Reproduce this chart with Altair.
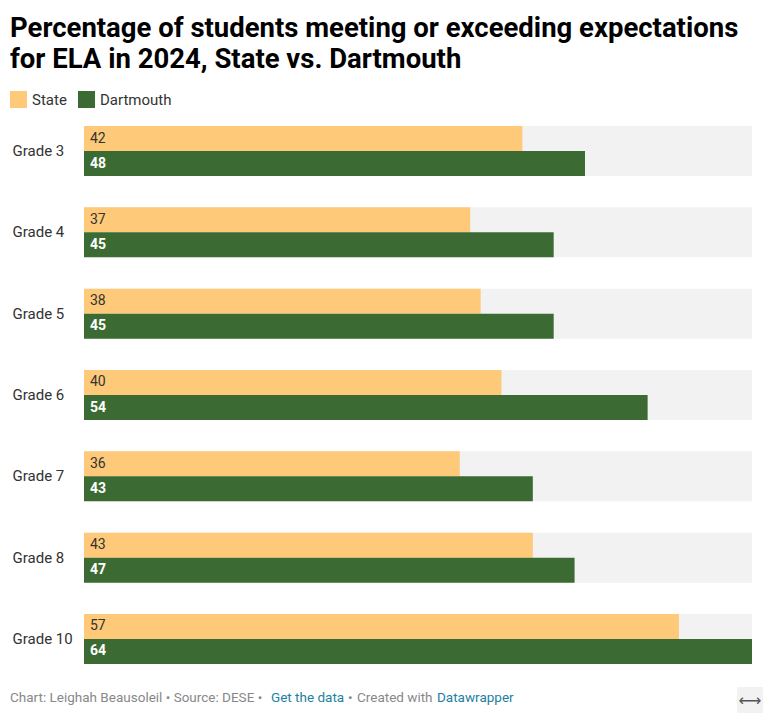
import altair as alt
import pandas as pd

grades = ["Grade 3", "Grade 4", "Grade 5", "Grade 6", "Grade 7", "Grade 8", "Grade 10"]
state = [42, 37, 38, 40, 36, 43, 57]
dartmouth = [48, 45, 45, 54, 43, 47, 64]
series = ["State", "Dartmouth"]
colors = ["#fec978", "#3b6b33"]
max_value = 64

title_lines = ["Percentage of students meeting or exceeding expectations",
               "for ELA in 2024, State vs. Dartmouth"]

rows = []
for g, s, d in zip(grades, state, dartmouth):
    rows.append({"grade": g, "series": "State", "value": s})
    rows.append({"grade": g, "series": "Dartmouth", "value": d})
df = pd.DataFrame(rows)
bg = pd.DataFrame({"grade": grades, "max": [max_value] * len(grades)})

FONT = "Roboto"
W, H = 668, 538

yscale = alt.Scale(domain=grades, paddingInner=0.385, paddingOuter=0)
xscale = alt.Scale(domain=[0, max_value], nice=False, zero=True)

yenc = alt.Y("grade:N", scale=yscale, sort=grades,
             axis=alt.Axis(title=None, ticks=False, domain=False, grid=False,
                           labelAlign="left", labelPadding=72, labelFont=FONT,
                           labelFontSize=15, labelColor="#333333"))

background = alt.Chart(bg).mark_bar(color="#f2f2f2").encode(
    x=alt.X("max:Q", scale=xscale, axis=None),
    y=yenc,
)

bars = alt.Chart(df).mark_bar().encode(
    x=alt.X("value:Q", scale=xscale, axis=None),
    y=yenc,
    yOffset=alt.YOffset("series:N", sort=series,
                        scale=alt.Scale(domain=series, paddingInner=0, paddingOuter=0)),
    color=alt.Color("series:N", sort=series,
                    scale=alt.Scale(domain=series, range=colors),
                    legend=alt.Legend(title=None, orient="none", legendX=-74, legendY=-35,
                                      direction="horizontal", symbolType="square",
                                      symbolSize=289, symbolStrokeWidth=0,
                                      labelFont=FONT, labelFontSize=15,
                                      labelColor="#333333", columnPadding=11,
                                      labelOffset=5, padding=0)),
)

def labels(name, color, weight):
    return alt.Chart(df).transform_filter(alt.datum.series == name).mark_text(
        align="left", baseline="middle", dx=6, font=FONT, fontSize=14,
        color=color, fontWeight=weight,
    ).encode(
        x=alt.datum(0),
        y=yenc,
        yOffset=alt.YOffset("series:N", sort=series,
                            scale=alt.Scale(domain=series, paddingInner=0, paddingOuter=0)),
        text="value:Q",
    )

def free_text(txt, x, y, size, color, weight="normal", font=FONT, align="left"):
    return alt.Chart(pd.DataFrame({"t": [txt]})).mark_text(
        align=align, baseline="alphabetic", font=font, fontSize=size,
        color=color, fontWeight=weight,
    ).encode(text="t:N", x=alt.value(x), y=alt.value(y))

title1 = free_text(title_lines[0], -74, -89, 27.5, "#000000", "bold")
title2 = free_text(title_lines[1], -74, -58, 27.5, "#000000", "bold")

foot_y = 576
FS = 13.5
footer = [
    free_text("Chart: Leighah Beausoleil • Source: DESE •", -74, foot_y, FS, "#888888"),
    free_text("Get the data", 187, foot_y, FS, "#1d81a2"),
    free_text("•", 264, foot_y, FS, "#888888"),
    free_text("Created with", 273, foot_y, FS, "#888888"),
    free_text("Datawrapper", 353, foot_y, FS, "#1d81a2"),
]

icon_box = alt.Chart(pd.DataFrame({"a": [0]})).mark_rect(color="#f2f2f2").encode(
    x=alt.value(653), x2=alt.value(679), y=alt.value(561), y2=alt.value(587))
icon = free_text("⟷", 666, 580, 16, "#555555", font="DejaVu Sans", align="center")

chart = alt.layer(
    background, bars,
    labels("State", "#333333", "normal"),
    labels("Dartmouth", "#ffffff", "bold"),
    title1, title2, *footer, icon_box, icon,
).properties(
    width=W, height=H,
    padding={"left": 84, "top": 126, "right": 11, "bottom": 49},
    autosize=alt.AutoSizeParams(type="none"),
    background="#ffffff",
).configure_view(stroke=None)

chart.save("out.html", embed_options={"renderer": "svg", "actions": False})
